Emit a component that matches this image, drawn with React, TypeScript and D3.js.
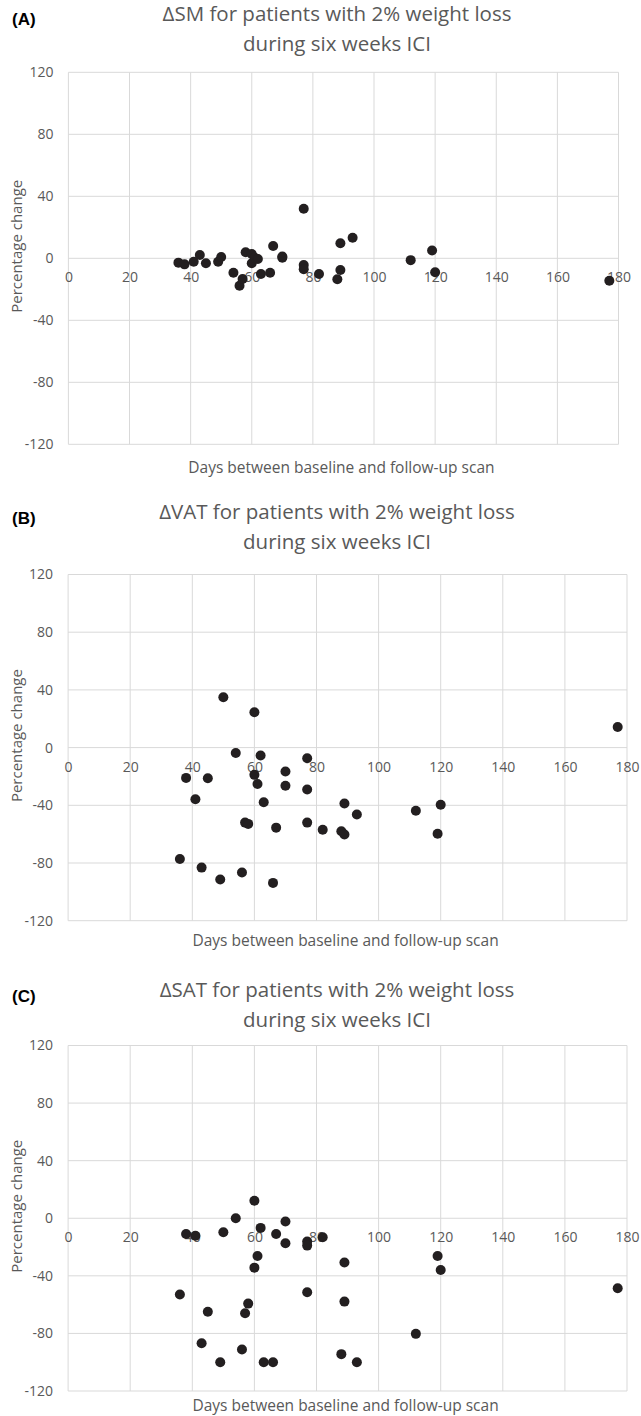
import React, { useEffect, useRef } from "react";
import * as d3 from "d3";

// axis ticks shared by all three panels
const dayTicks = [0, 20, 40, 60, 80, 100, 120, 140, 160, 180];
const changeTicks = [-120, -80, -40, 0, 40, 80, 120];

// (A) skeletal muscle
const smDays = [36, 38, 41, 43, 45, 49, 50, 54, 56, 57, 58, 60, 60, 61, 62, 63, 66, 67, 70, 70, 77, 77, 77, 82, 88, 89, 89, 93, 112, 119, 120, 177];
const smChange = [-2.8, -3.9, -2.2, 2.1, -3.2, -2.2, 0.8, -9.3, -17.7, -13.4, 3.9, -3.2, 2.8, 0.4, -0.5, -10.1, -9.3, 7.9, 0.4, 1.2, 32, -4.3, -7.1, -10.1, -13.5, 9.7, -7.5, 13.3, -1.2, 5, -9, -14.5];

// (B) visceral adipose tissue
const vatDays = [36, 38, 41, 43, 45, 49, 50, 54, 56, 57, 58, 60, 60, 61, 62, 63, 66, 67, 70, 70, 77, 77, 77, 82, 88, 89, 89, 93, 112, 119, 120, 177];
const vatChange = [-77.2, -21, -35.8, -83.2, -21.2, -91.5, 34.9, -3.7, -86.6, -52, -52.9, 24.5, -18.9, -25.2, -5.5, -37.9, -93.8, -55.5, -16.6, -26.5, -7.4, -29.1, -52, -57, -58, -38.8, -60.3, -46.4, -43.8, -59.7, -39.6, 14.3];

// (C) subcutaneous adipose tissue
const satDays = [36, 38, 41, 43, 45, 49, 50, 54, 56, 57, 58, 60, 60, 61, 62, 63, 66, 67, 70, 70, 77, 77, 77, 82, 88, 89, 89, 93, 112, 119, 120, 177];
const satChange = [-53, -10.9, -12.1, -86.8, -65, -100, -9.7, 0, -91.2, -66, -59.3, 12.2, -34.3, -26.2, -6.7, -100, -100, -10.9, -2.3, -17.4, -16.2, -19, -51.4, -13.2, -94.4, -30.8, -57.9, -100, -80.3, -26.2, -35.9, -48.6];

const FONT = "'Open Sans', sans-serif";
const GREY = "#595959";
const GRID = "#d9d9d9";

interface PanelProps {
  tag: string;
  title: [string, string];
  days: number[];
  change: number[];
  left: number;
  right: number;
  top: number;
  bottom: number;
  titleY: [number, number];
  tagY: number;
  xTitleY: number;
}

const ScatterPanel: React.FC<PanelProps> = ({
  tag,
  title,
  days,
  change,
  left,
  right,
  top,
  bottom,
  titleY,
  tagY,
  xTitleY,
}) => {
  const gRef = useRef<SVGGElement>(null);

  useEffect(() => {
    if (!gRef.current) return;
    const g = d3.select(gRef.current);
    g.selectAll("*").remove();

    const x = d3.scaleLinear().domain([0, 180]).range([left, right]);
    const y = d3.scaleLinear().domain([-120, 120]).range([bottom, top]);
    // plain hyphen minus like the original, not d3's unicode minus
    const fmt = (d: d3.NumberValue) => String(d);

    // grid
    g.append("g")
      .selectAll("line")
      .data(changeTicks)
      .enter()
      .append("line")
      .attr("x1", left)
      .attr("x2", right)
      .attr("y1", (d) => y(d))
      .attr("y2", (d) => y(d))
      .attr("stroke", GRID)
      .attr("stroke-width", 1);

    g.append("g")
      .selectAll("line")
      .data(dayTicks)
      .enter()
      .append("line")
      .attr("x1", (d) => x(d))
      .attr("x2", (d) => x(d))
      .attr("y1", top)
      .attr("y2", bottom)
      .attr("stroke", GRID)
      .attr("stroke-width", 1);

    // y axis labels
    const yAxis = g
      .append("g")
      .attr("transform", `translate(${left},0)`)
      .call(d3.axisLeft(y).tickValues(changeTicks).tickFormat(fmt).tickSize(0).tickPadding(15));
    yAxis.select(".domain").remove();
    yAxis
      .selectAll("text")
      .attr("fill", GREY)
      .style("font-family", FONT)
      .style("font-size", "14px");

    // x axis labels sit under the zero line
    const xAxis = g
      .append("g")
      .attr("transform", `translate(0,${y(0)})`)
      .call(d3.axisBottom(x).tickValues(dayTicks).tickFormat(fmt).tickSize(0).tickPadding(14));
    xAxis.select(".domain").remove();
    xAxis
      .selectAll("text")
      .attr("fill", GREY)
      .style("font-family", FONT)
      .style("font-size", "14px");

    // points
    g.append("g")
      .selectAll("circle")
      .data(days.map((d, i) => ({ d, v: change[i] })))
      .enter()
      .append("circle")
      .attr("cx", (p) => x(p.d))
      .attr("cy", (p) => y(p.v))
      .attr("r", 5)
      .attr("fill", "#231f20");

    // titles
    const cx = 337;
    title.forEach((t, i) => {
      g.append("text")
        .attr("x", cx)
        .attr("y", titleY[i])
        .attr("text-anchor", "middle")
        .attr("fill", GREY)
        .style("font-family", FONT)
        .style("font-size", "20.5px")
        .text(t);
    });

    g.append("text")
      .attr("x", 12)
      .attr("y", tagY)
      .attr("fill", "#000")
      .style("font-family", "'Liberation Sans', Arial, sans-serif")
      .style("font-weight", "bold")
      .style("font-size", "17px")
      .text(tag);

    g.append("text")
      .attr("x", (left + right) / 2 - 2)
      .attr("y", xTitleY)
      .attr("text-anchor", "middle")
      .attr("fill", GREY)
      .style("font-family", FONT)
      .style("font-size", "15.5px")
      .text("Days between baseline and follow-up scan");

    g.append("text")
      .attr("transform", `translate(22,${(top + bottom) / 2 - 12}) rotate(-90)`)
      .attr("text-anchor", "middle")
      .attr("fill", GREY)
      .style("font-family", FONT)
      .style("font-size", "15px")
      .text("Percentage change");
  }, [tag, title, days, change, left, right, top, bottom, titleY, tagY, xTitleY]);

  return <g ref={gRef} />;
};

export default function App() {
  return (
    <div style={{ position: "absolute", left: 0, top: 0 }}>
      <svg width={641} height={1416} style={{ display: "block", background: "#fff" }}>
        <ScatterPanel
          tag="(A)"
          title={["\u0394SM for patients with 2% weight loss", "during six weeks ICI"]}
          days={smDays}
          change={smChange}
          left={68.4}
          right={618.5}
          top={72.3}
          bottom={444.3}
          titleY={[21, 51]}
          tagY={25}
          xTitleY={473}
        />
        <ScatterPanel
          tag="(B)"
          title={["\u0394VAT for patients with 2% weight loss", "during six weeks ICI"]}
          days={vatDays}
          change={vatChange}
          left={68.1}
          right={627}
          top={574.5}
          bottom={920.7}
          titleY={[519, 549]}
          tagY={524}
          xTitleY={946}
        />
        <ScatterPanel
          tag="(C)"
          title={["\u0394SAT for patients with 2% weight loss", "during six weeks ICI"]}
          days={satDays}
          change={satChange}
          left={68.1}
          right={627}
          top={1045.5}
          bottom={1391}
          titleY={[997, 1027]}
          tagY={1002}
          xTitleY={1411}
        />
      </svg>
    </div>
  );
}
